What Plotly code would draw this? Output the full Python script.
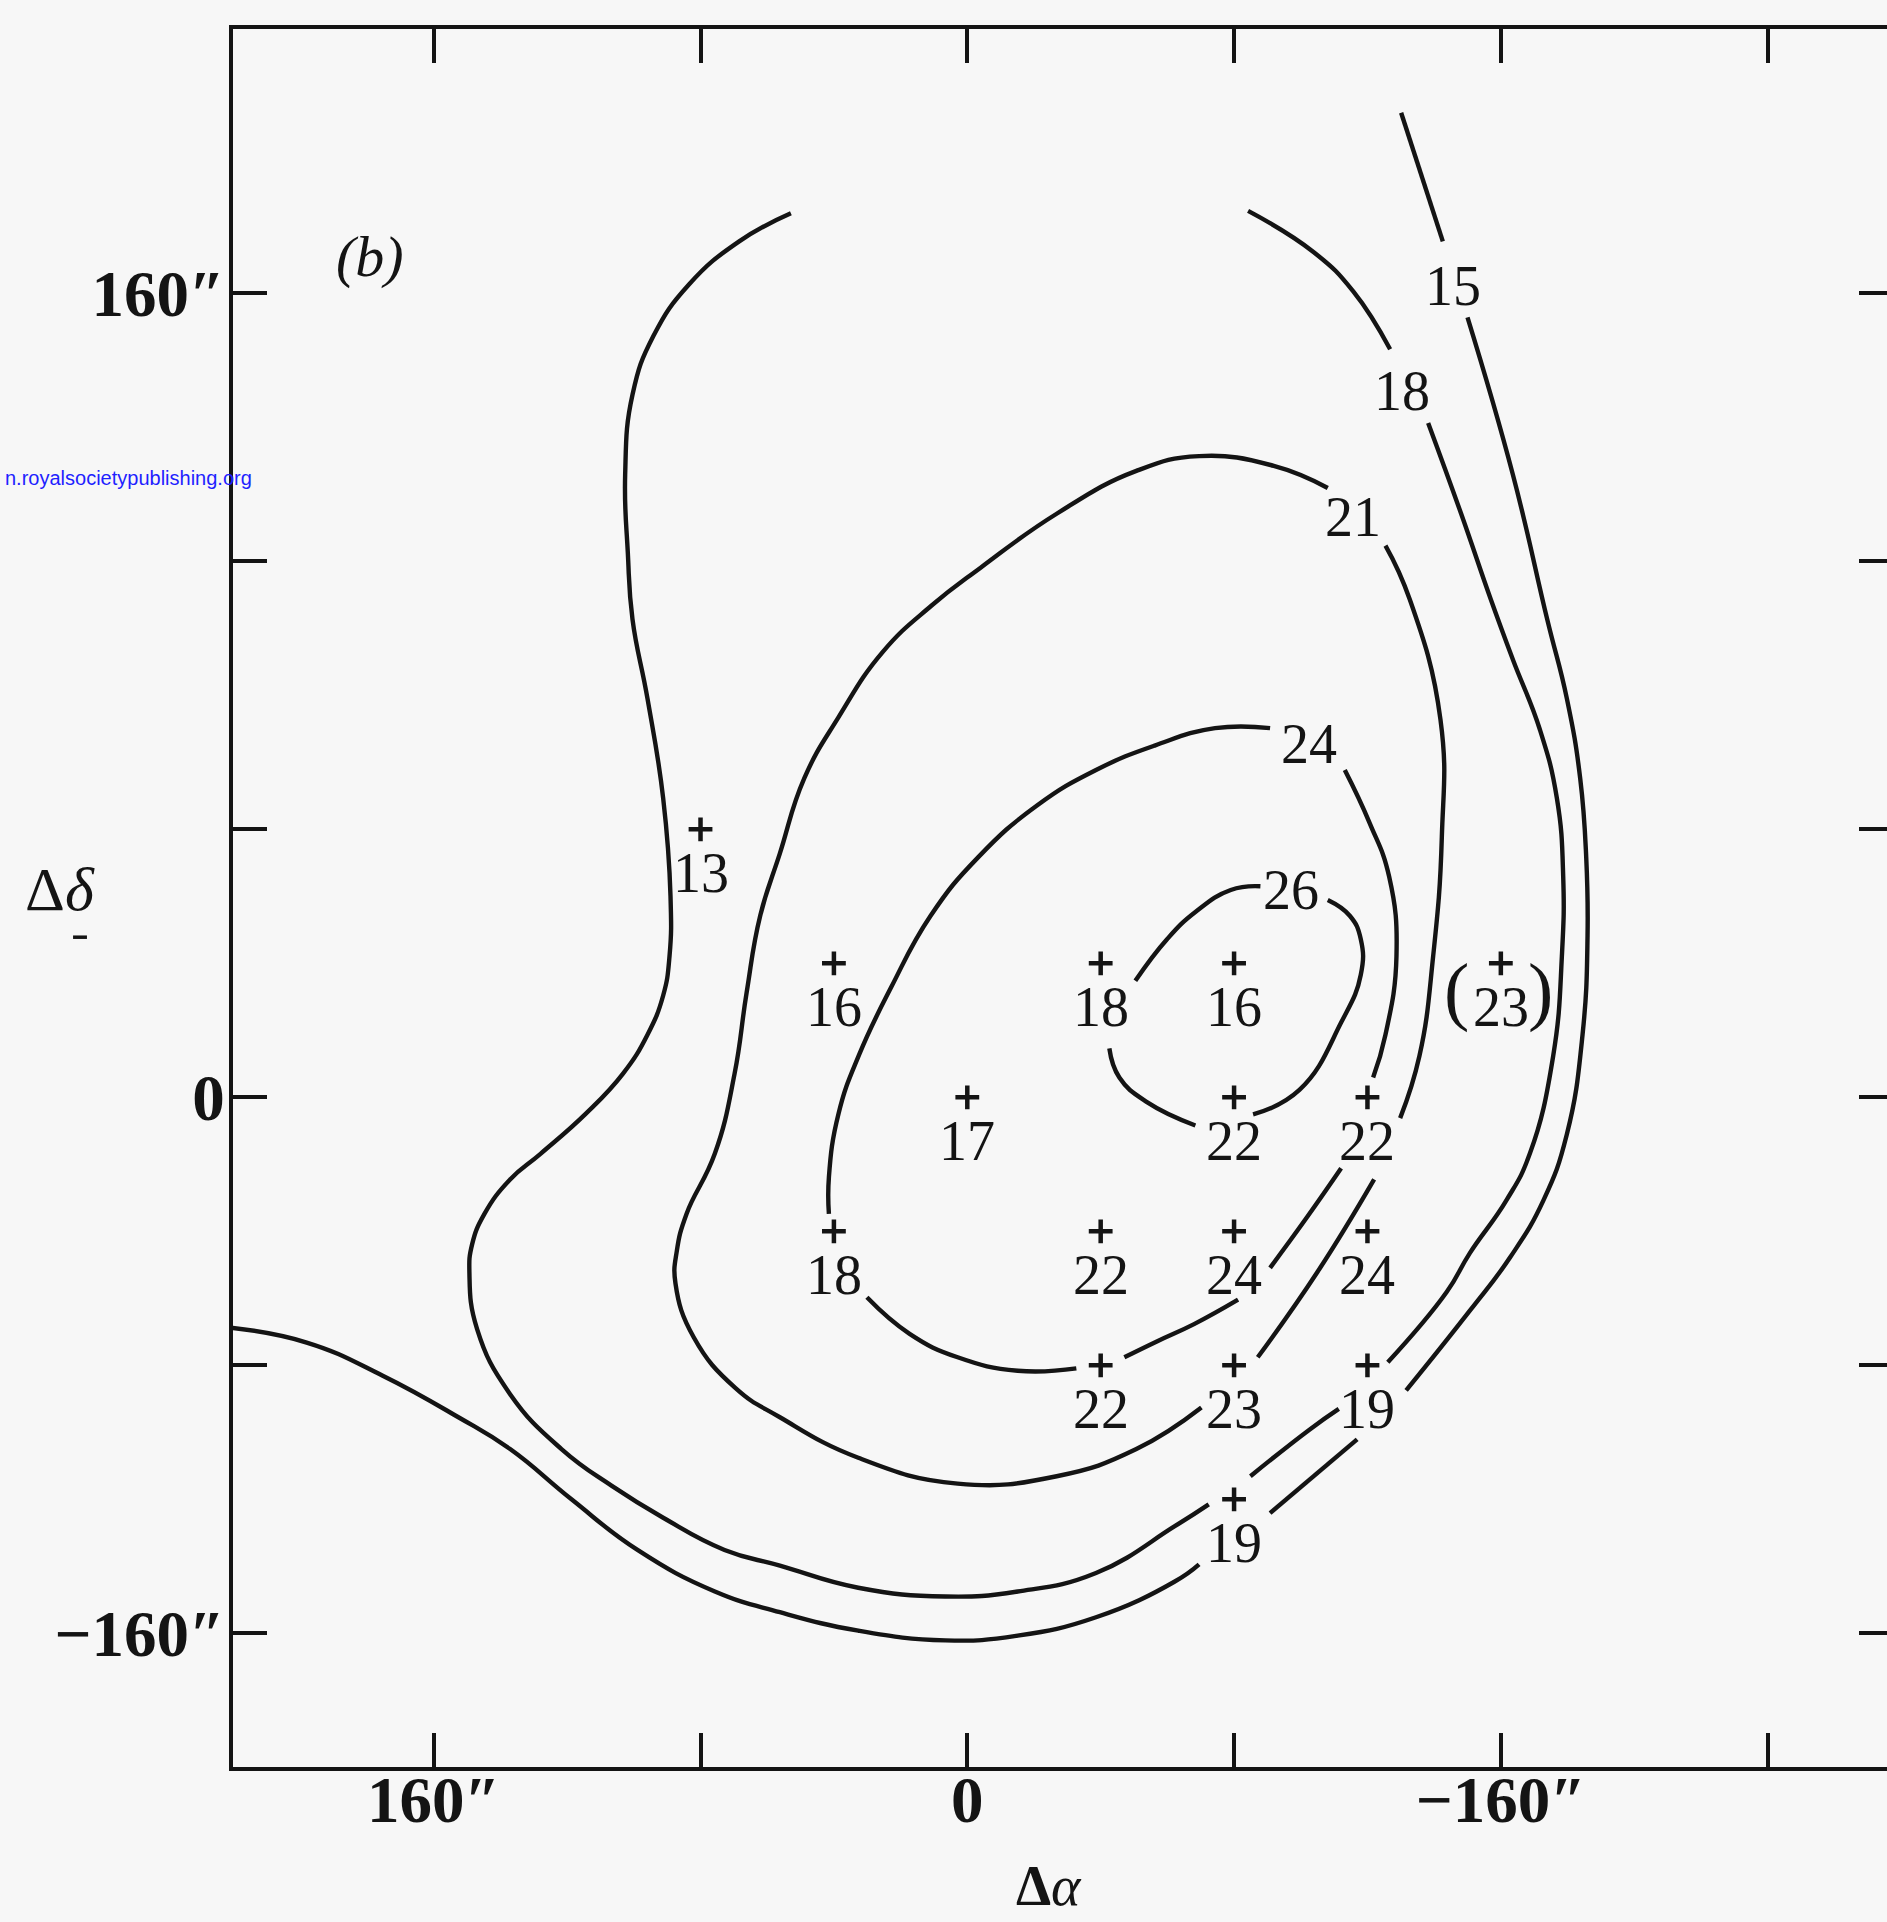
import plotly.graph_objects as go

INK = "#141414"
BG = "#f7f7f7"
SERIF = "Liberation Serif"

# ---- measured grid points (Δα, Δδ in arcsec) and values ----
pt_x = [80, 40, -40, -80, -160, 0, -80, -120, 40, -40, -80, -120, -40, -80, -120, -80]
pt_y = [80, 40, 40, 40, 40, 0, 0, 0, -40, -40, -40, -40, -80, -80, -80, -120]
pt_val = ["13", "16", "18", "16", "23", "17", "22", "22", "18", "22", "24", "24", "22", "23", "19", "19"]

# ---- contour lines (segments separated where labels interrupt them) ----
c15 = [
    [(-130.1, 293.9), (-142.6, 255.5)],
    [(-150.0, 232.8), (-163.6, 185.9), (-173.9, 142.7), (-179.8, 119.0), (-183.8, 95.2),
     (-185.6, 71.7), (-186.0, 48.3), (-184.5, 18.7), (-179.8, -11.0), (-172.8, -30.7),
     (-162.9, -47.6), (-150.7, -63.7), (-131.6, -87.5)],
    [(-116.9, -102.1), (-90.8, -124.1)],
    [(-69.5, -139.4), (-62.1, -144.6), (-38.6, -155.2), (-15.1, -160.7), (6.6, -162.1),
     (32.7, -159.2), (56.2, -153.7), (75.7, -147.5), (98.9, -135.1), (118.7, -120.0),
     (137.1, -105.0), (152.6, -95.5), (175.3, -83.1), (198.1, -73.2), (220.8, -68.8)],
]
c18 = [
    [(52.9, 263.9), (68.4, 255.5), (83.4, 242.7), (94.1, 227.3), (100.4, 209.7),
     (102.6, 185.9), (101.8, 162.5), (100.4, 142.7), (95.9, 119.0), (91.2, 89.3),
     (89.0, 60.0), (89.3, 42.1), (91.2, 30.4), (95.9, 18.7), (103.3, 7.0), (114.3, -4.8),
     (127.9, -16.8), (137.1, -24.5), (144.8, -34.8), (148.5, -43.9), (149.3, -52.7),
     (147.0, -69.2), (137.1, -88.6), (121.7, -105.0), (106.6, -116.0), (91.2, -125.5),
     (72.8, -135.1), (56.2, -139.8), (32.7, -146.4), (6.6, -149.0), (-15.1, -147.5),
     (-38.6, -142.0), (-62.1, -128.1), (-72.4, -121.5)],
    [(-84.9, -113.1), (-102.6, -99.2), (-111.4, -93.0)],
    [(-126.1, -79.1), (-143.7, -58.2), (-150.7, -46.5), (-161.7, -30.7), (-168.7, -16.8),
     (-175.7, 12.4), (-178.3, 42.1), (-178.7, 65.9), (-176.8, 89.3), (-171.7, 109.8),
     (-163.6, 130.7), (-157.0, 148.6), (-148.1, 174.2), (-138.2, 201.3)],
    [(-126.8, 223.3), (-115.8, 240.5), (-104.0, 252.2), (-84.2, 264.6)],
]
c21 = [
    [(-125.4, 164.7), (-132.7, 148.6), (-141.9, 112.7), (-142.3, 77.6), (-139.7, 42.1),
     (-135.6, 12.4), (-129.8, -6.2)],
    [(-122.0, -24.5), (-105.1, -52.0), (-87.1, -77.6)],
    [(-70.2, -92.6), (-50.7, -105.0), (-26.8, -113.1), (2.9, -115.3), (32.7, -107.6),
     (56.2, -95.5), (69.5, -86.8), (82.0, -71.7), (87.5, -55.6),
     (87.1, -45.8), (84.2, -34.8), (75.7, -16.8), (69.8, 7.0), (66.2, 31.1), (62.1, 54.2),
     (56.2, 72.8), (48.9, 95.2), (38.6, 113.5), (25.4, 132.9), (10.7, 146.8),
     (-4.0, 158.1), (-26.8, 174.2), (-50.7, 187.0), (-69.5, 191.4), (-91.9, 188.5),
     (-108.1, 181.9)],
]
c24 = [
    [(-113.2, 97.7), (-120.6, 82.0), (-126.5, 65.9), (-128.7, 42.1), (-125.4, 18.7),
     (-121.7, 5.9)],
    [(-112.1, -21.2), (-101.8, -35.9), (-90.8, -50.9)],
    [(-81.2, -60.4), (-68.0, -67.7), (-57.0, -72.8), (-47.1, -77.6)],
    [(-32.7, -80.9), (-15.1, -81.6), (2.9, -77.6), (17.3, -70.6), (30.1, -59.7)],
    [(41.5, -34.8), (41.5, -23.8), (38.6, -4.8), (32.4, 12.8), (22.8, 32.9), (11.0, 54.2),
     (-3.3, 71.7), (-20.9, 87.1), (-38.6, 97.7), (-56.2, 105.0), (-74.3, 110.2),
     (-90.8, 110.2)],
]
c26 = [
    [(-87.9, 63.0), (-79.0, 61.9), (-68.4, 55.3), (-59.9, 47.2), (-50.4, 34.8)],
    [(-42.6, 14.6), (-45.6, 5.9), (-54.0, -1.5), (-68.4, -8.4)],
    [(-85.7, -5.1), (-99.6, 2.2), (-112.1, 22.3), (-118.0, 36.6), (-118.0, 47.2),
     (-114.7, 54.2), (-108.1, 58.9)],
]

# contour level labels
lab_x = [-145.6, -130.5, -115.8, -102.6, -97.1]
lab_y = [242.3, 210.8, 173.1, 105.4, 61.9]
lab_txt = ["15", "18", "21", "24", "26"]

# axis ticks
x_tickvals = [160, 80, 0, -80, -160, -240]
x_ticktext = ["160″", "", "0", "", "−160″", ""]
y_tickvals = [240, 160, 80, 0, -80, -160]
y_ticktext = ["160″", "", "", "0", "", "−160″"]

X_RANGE = [220.2, -275.8]
Y_RANGE = [-199.9, 318.9]


def seg_xy(segments):
    xs, ys = [], []
    for seg in segments:
        for (a, b) in seg:
            xs.append(a)
            ys.append(b)
        xs.append(None)
        ys.append(None)
    return xs, ys


fig = go.Figure()
for c in (c15, c18, c21, c24, c26):
    xs, ys = seg_xy(c)
    fig.add_trace(go.Scatter(x=xs, y=ys, mode="lines", connectgaps=False,
                             line=dict(color=INK, width=4.4, shape="spline", smoothing=1.3),
                             hoverinfo="skip"))

fig.add_trace(go.Scatter(x=pt_x, y=pt_y, mode="markers",
                         marker=dict(symbol="cross-thin", size=17, color=INK,
                                     line=dict(width=4.5, color=INK)),
                         hoverinfo="skip"))
# dummy trace for right-hand tick axis
fig.add_trace(go.Scatter(x=[None], y=[None], yaxis="y2", mode="lines", hoverinfo="skip"))

ann = []
for x, y, t in zip(pt_x, pt_y, pt_val):
    ann.append(dict(x=x, y=y, text=t, showarrow=False, yshift=-44,
                    xanchor="center", yanchor="middle",
                    font=dict(family=SERIF, size=56, color=INK)))
for x, y, t in zip(lab_x, lab_y, lab_txt):
    ann.append(dict(x=x, y=y, text=t, showarrow=False, xanchor="center", yanchor="middle",
                    font=dict(family=SERIF, size=56, color=INK)))
# parentheses around the (23) point
ann.append(dict(x=-146.8, y=31.8, text="(", showarrow=False, xanchor="center", yanchor="middle",
                borderpad=0, font=dict(family=SERIF, size=76, color=INK)))
ann.append(dict(x=-171.8, y=31.8, text=")", showarrow=False, xanchor="center", yanchor="middle",
                borderpad=0, font=dict(family=SERIF, size=76, color=INK)))
# panel label and axis titles
ann.append(dict(x=179.1, y=251.1, text="<i>(b)</i>", showarrow=False,
                xanchor="center", yanchor="middle",
                font=dict(family=SERIF, size=58, color=INK)))
ann.append(dict(x=-24.5, xref="x", y=-0.0685, yref="paper", text="<b>Δ</b><i>α</i>",
                showarrow=False, xanchor="center", yanchor="middle", borderpad=0,
                font=dict(family=SERIF, size=56, color=INK)))
ann.append(dict(x=-0.1046, xref="paper", y=62.2, yref="y", text="Δ<i>δ</i>",
                showarrow=False, xanchor="center", yanchor="middle",
                font=dict(family=SERIF, size=62, color=INK)))
ann.append(dict(x=0.0127, xref="paper", xanchor="right", yanchor="middle", y=184.9, yref="y",
                text="n.royalsocietypublishing.org", showarrow=False,
                font=dict(family="Liberation Sans", size=20, color="#1f1fff")))

axis_common = dict(showgrid=False, zeroline=False, ticks="inside", tickwidth=4,
                   tickcolor=INK, linecolor=INK, linewidth=4.4)

fig.update_layout(
    width=1887, height=1922,
    margin=dict(l=233, r=0, t=29, b=155),
    paper_bgcolor=BG, plot_bgcolor=BG,
    showlegend=False,
    annotations=ann,
    shapes=[dict(type="line", xref="paper", yref="y", x0=-0.0967, x1=-0.0883,
                 y0=47.8, y1=47.8, line=dict(color=INK, width=3.5))],
    xaxis=dict(range=X_RANGE, tickvals=x_tickvals, ticktext=x_ticktext,
               ticklen=34, showline=True, mirror="ticks",
               tickfont=dict(family=SERIF, size=65, color=INK, weight="bold"),
               ticklabelstandoff=-27, **axis_common),
    yaxis=dict(range=Y_RANGE, tickvals=y_tickvals, ticktext=y_ticktext,
               ticklen=34, showline=True, mirror=False,
               tickfont=dict(family=SERIF, size=65, color=INK, weight="bold"),
               ticklabelstandoff=-9, **axis_common),
    yaxis2=dict(range=Y_RANGE, overlaying="y", side="right", tickvals=y_tickvals,
                ticklen=28, showticklabels=False, showline=False, showgrid=False,
                zeroline=False, ticks="inside", tickwidth=4, tickcolor=INK),
)

fig.write_html("out.html", config={"displayModeBar": False},
               post_script="document.body.style.margin='0px';")
